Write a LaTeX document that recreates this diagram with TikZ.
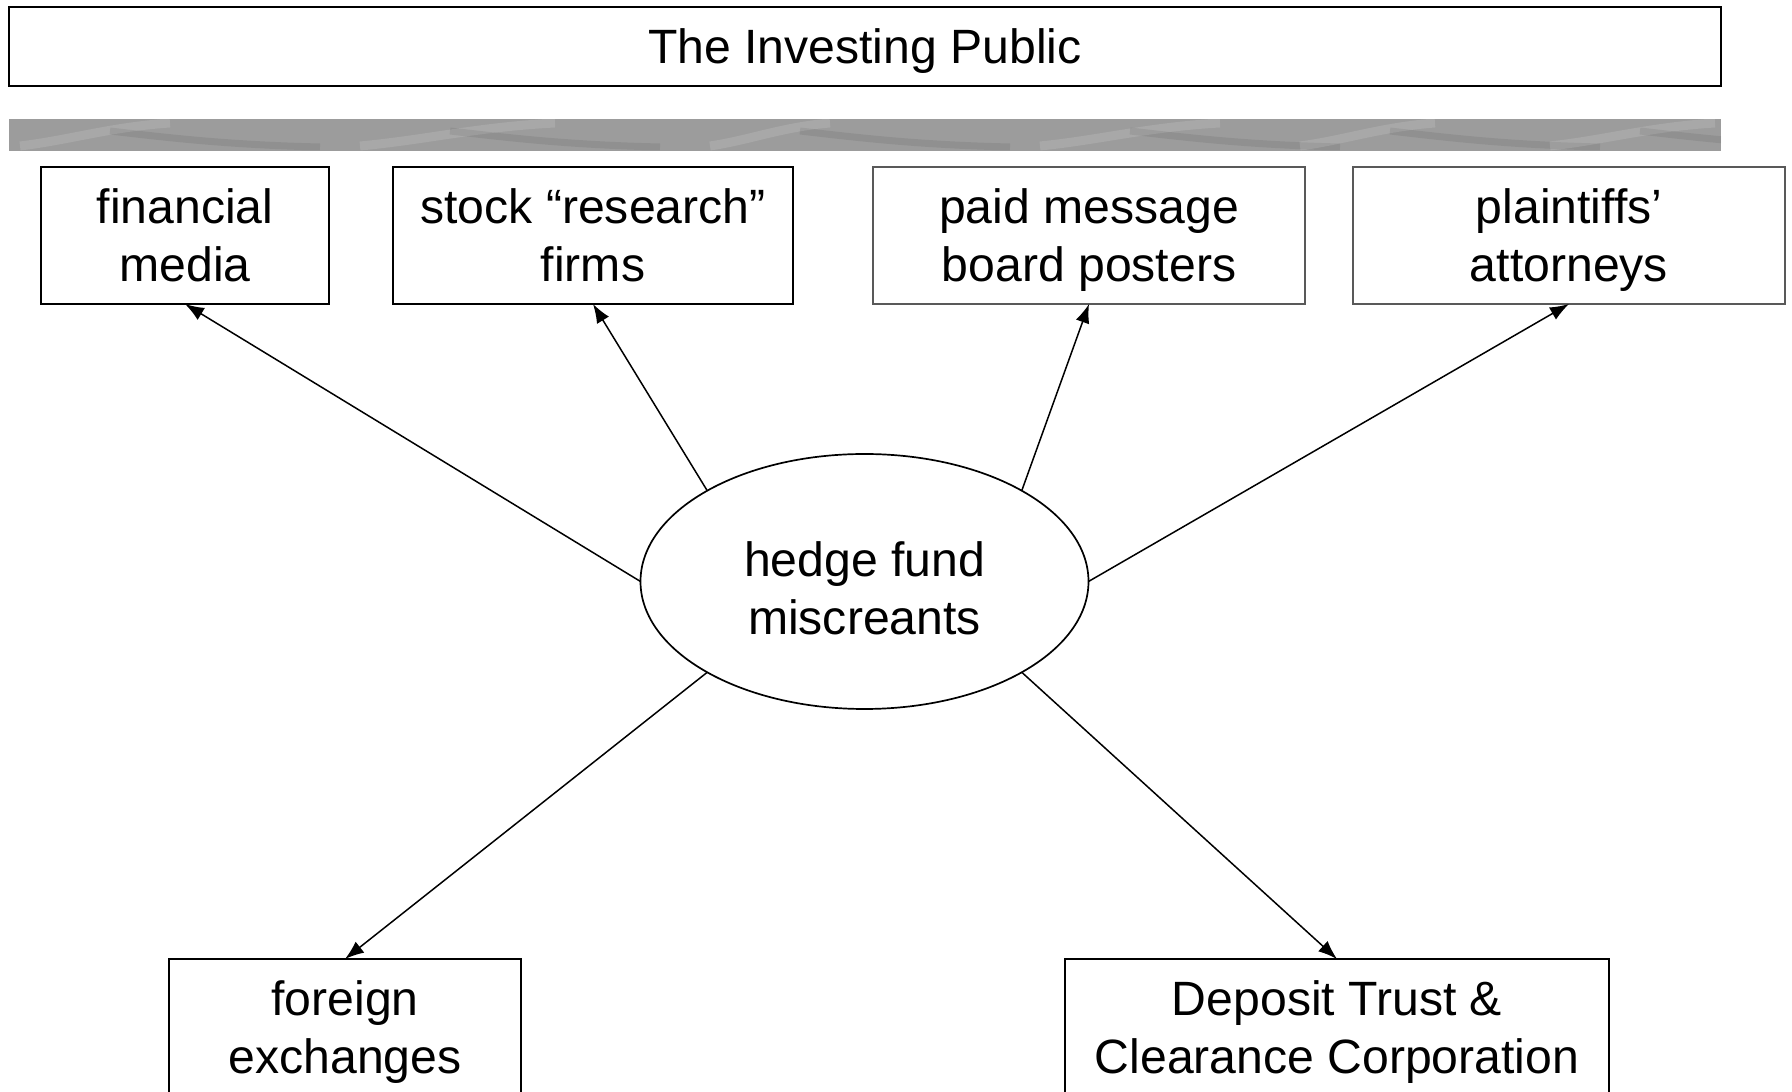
\documentclass[tikz,border=0pt]{standalone}
\usepackage{fontspec}
\setmainfont{Liberation Sans}
\usepackage{tikz}
\usetikzlibrary{positioning,shapes.geometric,arrows.meta}

\begin{document}
\begin{tikzpicture}[
    % Style definitions
    box/.style={rectangle, inner sep=0pt, outer sep=0pt, minimum height=1.37cm, text depth=0pt, align=center, font=\fontsize{13.7pt}{16.5pt}\selectfont},
    actor/.style={box, draw=black, line width=0.017cm},
    helper/.style={box, draw=black!65, line width=0.012cm},
    public/.style={box, draw=black, line width=0.023cm, minimum height=0.79cm, minimum width=17.12cm},
    fund/.style={ellipse, draw=black, line width=0.017cm, inner sep=0pt, outer sep=0pt, minimum width=4.48cm, minimum height=2.55cm, text height=1.06cm, text depth=0pt, align=center, font=\fontsize{13.7pt}{16.5pt}\selectfont},
    arrow/.style={-{Latex[length=0.19cm,width=0.14cm]}, line width=0.015cm, color=black}
]

% Frame of the page (the bottom boxes run off the edge)
\clip (0,0) rectangle (17.92,-10.92);

% Top: the public
\node[public] (public) at (8.65,-0.465) {The Investing Public};

% Grey textured band
\begin{scope}
    \clip (0.09,-1.19) rectangle (17.21,-1.51);
    \fill[black!39] (0.09,-1.19) rectangle (17.21,-1.51);
    \foreach \x/\s in {0.2/1.0, 3.6/1.3, 7.1/0.8, 10.4/1.2, 13.0/0.9, 15.5/1.1} {
        \draw[white, opacity=0.12, line width=0.09cm] (\x,-1.46) .. controls (\x+0.5*\s,-1.40) and (\x+0.9*\s,-1.27) .. (\x+1.5*\s,-1.23);
        \draw[black, opacity=0.07, line width=0.07cm] (\x+0.9,-1.31) .. controls (\x+1.5,-1.38) and (\x+2.1,-1.45) .. (\x+3.0,-1.47);
    }
\end{scope}

% Row of outlets
\node[actor, minimum width=2.88cm] (media) at (1.85,-2.355) {financial\\media};
\node[actor, minimum width=4.00cm, right=0.64cm of media] (research) {stock “research”\\firms};
\node[helper, minimum width=4.32cm, right=0.80cm of research] (posters) {paid message\\board posters};
\node[helper, minimum width=4.32cm, right=0.48cm of posters] (lawyers) {plaintiffs’\\attorneys};

% Centre
\node[fund] (hedge) at (8.645,-5.815) {hedge fund\\miscreants};

% Bottom row
\node[actor, minimum width=3.52cm] (foreign) at (3.45,-10.275) {foreign\\exchanges};
\node[actor, minimum width=5.44cm] (dtcc) at (13.37,-10.275) {Deposit Trust \&\\Clearance Corporation};

% Connections
\draw[arrow] (hedge.180) -- (media.south);
\draw[arrow] (hedge.150) -- (research.south);
\draw[arrow] (hedge.30) -- (posters.south);
\draw[arrow] (hedge.0) -- (lawyers.south);
\draw[arrow] (hedge.210) -- (foreign.north);
\draw[arrow] (hedge.330) -- (dtcc.north);

\end{tikzpicture}
\end{document}
